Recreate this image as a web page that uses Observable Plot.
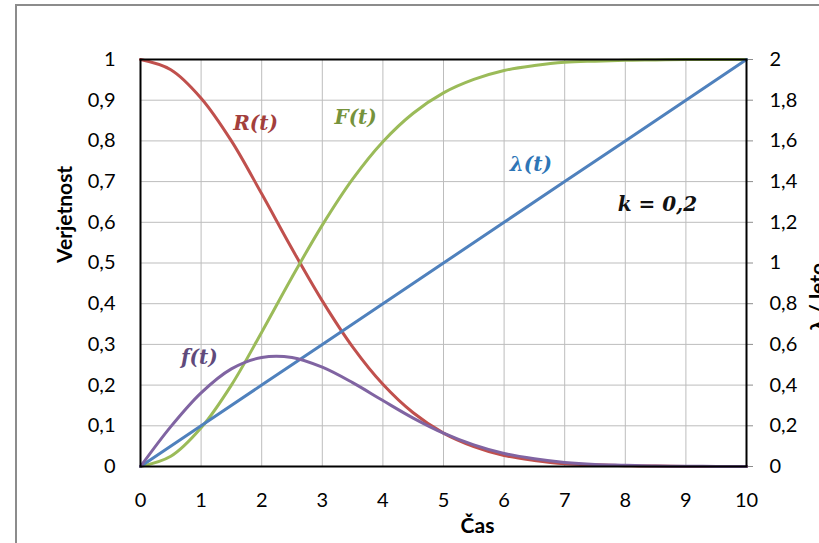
<!DOCTYPE html>
<html><head><meta charset="utf-8">
<script src="https://cdn.jsdelivr.net/npm/d3@7"></script>
<script src="https://cdn.jsdelivr.net/npm/@observablehq/plot@0.6"></script>
<style>
html,body{margin:0;padding:0;background:#fff;}
#wrap{position:relative;width:819px;height:543px;overflow:hidden;background:#fff;}
#frame{position:absolute;left:15px;top:4px;width:900px;height:700px;border-left:2px solid #8c8c8c;border-top:2px solid #8c8c8c;}
#chart{position:absolute;left:0;top:0;}
</style></head><body>
<div id="wrap"><div id="frame"></div><div id="chart"></div></div>
<script>
// time (Čas)
const t = [0,0.5,1,1.5,2,2.5,3,3.5,4,4.5,5,5.5,6,6.5,7,7.5,8,8.5,9,9.5,10];
// R(t) – reliability
const R = [1,0.975,0.905,0.80,0.67,0.535,0.407,0.294,0.202,0.132,0.082,0.049,0.027,0.015,0.007,0.004,0.002,0.001,0.0003,0.0001,0];
// F(t) – unreliability
const F = [0,0.025,0.095,0.20,0.33,0.465,0.593,0.706,0.798,0.868,0.918,0.951,0.973,0.985,0.993,0.996,0.998,0.999,1,1,1];
// f(t) – density
const f = [0,0.098,0.181,0.240,0.268,0.268,0.244,0.206,0.162,0.119,0.082,0.053,0.032,0.019,0.010,0.005,0.003,0.001,0.0005,0.0002,0];
// λ(t) – hazard rate, right axis (1/leto)
const tLam = [0,1,2,3,4,5,6,7,8,9,10];
const lam = [0,0.2,0.4,0.6,0.8,1.0,1.2,1.4,1.6,1.8,2.0];

const xTicks = [0,1,2,3,4,5,6,7,8,9,10];
const leftTicks = [0,0.1,0.2,0.3,0.4,0.5,0.6,0.7,0.8,0.9,1];
const rightTicks = [0,0.2,0.4,0.6,0.8,1,1.2,1.4,1.6,1.8,2];

const labelText = ["R(t)","F(t)","λ(t)","k = 0,2","f(t)"];
const labelX = [1.90,3.55,6.44,8.53,0.97];
const labelY = [0.843,0.857,0.742,0.644,0.268];
const labelColor = ["#a33f3c","#76933c","#2e75b6","#111111","#604a7b"];

const comma = v => String(+v.toFixed(1)).replace(".", ",");
const rows = (xs, ys) => xs.map((x,i) => ({x, y: ys[i]}));
const labels = labelText.map((s,i)=>({s, x: labelX[i], y: labelY[i], c: labelColor[i]}));

const grid = "#bdbdbd";
const chart = Plot.plot({
  width: 819, height: 543,
  marginLeft: 140, marginRight: 73, marginTop: 59, marginBottom: 77,
  style: {background: "transparent", fontFamily: "Lato, sans-serif", fontSize: "20px", color: "#000"},
  x: {domain: [0,10]},
  y: {domain: [0,1]},
  marks: [
    Plot.ruleX(xTicks, {stroke: grid, strokeWidth: 1}),
    Plot.ruleY(leftTicks, {stroke: grid, strokeWidth: 1}),
    Plot.axisY(leftTicks, {anchor: "left", tickSize: 0, tickPadding: 25, tickFormat: comma, label: null}),
    Plot.axisY(rightTicks.map(v => v/2), {anchor: "right", tickSize: 6, tickPadding: 17, stroke: "#8c8c8c", tickFormat: d => comma(d*2), label: null}),
    Plot.axisX(xTicks, {anchor: "bottom", tickSize: 0, tickPadding: 26, tickFormat: d => String(d), label: null}),
    Plot.line(rows(t, R), {x: "x", y: "y", stroke: "#c0504d", strokeWidth: 3, curve: "catmull-rom"}),
    Plot.line(rows(t, F), {x: "x", y: "y", stroke: "#9bbb59", strokeWidth: 3, curve: "catmull-rom"}),
    Plot.line(rows(tLam, lam), {x: "x", y: d => d.y/2, stroke: "#4f81bd", strokeWidth: 3}),
    Plot.line(rows(t, f), {x: "x", y: "y", stroke: "#8064a2", strokeWidth: 3, curve: "catmull-rom"}),
    Plot.frame({stroke: "#000", strokeWidth: 2}),
    Plot.text(labels, {x: "x", y: "y", text: "s", fill: "c", fontFamily: "'DejaVu Serif', serif", fontWeight: "bold", fontStyle: "italic", fontSize: 20, lineAnchor: "middle", textAnchor: "middle"}),
    Plot.text(["Verjetnost"], {frameAnchor: "left", rotate: -90, dx: -75, fontWeight: "bold", fontSize: 21, lineAnchor: "middle"}),
    Plot.text(["Čas"], {frameAnchor: "bottom", dx: 34, dy: 60, fontWeight: "bold", fontSize: 21, lineAnchor: "middle"}),
    Plot.text(["λ / leto"], {frameAnchor: "right", rotate: -90, dx: 72, fontWeight: "bold", fontSize: 21, lineAnchor: "middle"})
  ]
});
document.getElementById("chart").appendChild(chart);
</script>
</body></html>
